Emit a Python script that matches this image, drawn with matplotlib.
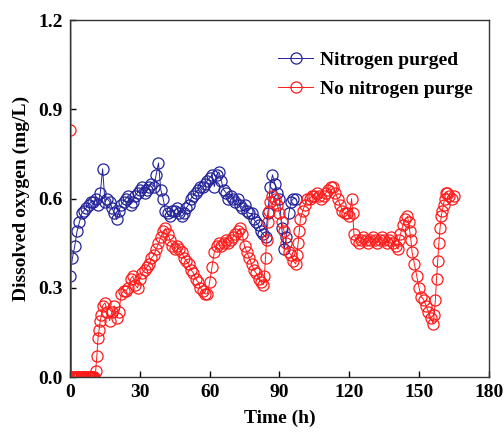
import numpy as np
import matplotlib
matplotlib.use('Agg')
import matplotlib.pyplot as plt

plt.rcParams['font.family'] = ['Liberation Serif', 'DejaVu Serif']
plt.rcParams['font.weight'] = 'bold'

# Nitrogen purged (blue)
t_n2 = [0, 1, 2, 3, 4, 5, 6, 7, 8, 9, 10, 11, 12, 13, 14, 15, 16, 17, 18, 19,
        20, 21, 22, 23, 24, 25, 26, 27, 28, 29, 30, 31, 32, 33, 34, 35, 36, 37, 38, 39,
        40, 41, 42, 43, 44, 45, 46, 47, 48, 49, 50, 51, 52, 53, 54, 55, 56, 57, 58, 59,
        60, 61, 62, 63, 64, 65, 66, 67, 68, 69, 70, 71, 72, 73, 74, 75, 76, 77, 78, 79,
        80, 81, 82, 83, 84, 85, 86, 87, 88, 89, 90, 91, 92, 93, 94, 95, 96, 97]
do_n2 = [0.34, 0.40, 0.44, 0.49, 0.52, 0.55, 0.56, 0.57, 0.58, 0.59, 0.59, 0.60, 0.58, 0.62, 0.70, 0.59, 0.60, 0.59, 0.57, 0.55,
         0.53, 0.56, 0.58, 0.59, 0.60, 0.61, 0.58, 0.59, 0.61, 0.62, 0.63, 0.64, 0.62, 0.63, 0.64, 0.65, 0.64, 0.68, 0.72, 0.63,
         0.60, 0.56, 0.55, 0.54, 0.56, 0.56, 0.57, 0.55, 0.54, 0.55, 0.57, 0.58, 0.60, 0.61, 0.62, 0.63, 0.64, 0.64, 0.65, 0.66,
         0.67, 0.68, 0.64, 0.68, 0.69, 0.66, 0.63, 0.62, 0.60, 0.61, 0.60, 0.59, 0.60, 0.58, 0.57, 0.58, 0.56, 0.55, 0.55, 0.53,
         0.52, 0.51, 0.49, 0.48, 0.47, 0.55, 0.64, 0.68, 0.65, 0.62, 0.60, 0.50, 0.43, 0.47, 0.55, 0.59, 0.60, 0.60]

# No nitrogen purge (red)
t_air = [0, 0.3, 0.6, 1.0, 1.5, 2.0, 2.5, 3.0, 3.5, 4.0, 4.5, 5.0, 5.5, 6.0, 6.5, 7.0, 7.5, 8.0, 8.5, 9.0,
         9.5, 10.0, 10.5, 11, 11.5, 12, 12.5, 13, 13.5, 14, 15, 16, 17, 18, 19, 20, 21, 22, 23, 24,
         25, 26, 27, 28, 29, 30, 31, 32, 33, 34, 35, 36, 37, 38, 39, 40, 41, 42, 43, 44,
         45, 46, 47, 48, 49, 50, 51, 52, 53, 54, 55, 56, 57, 58, 59, 60, 61, 62, 63, 64,
         65, 66, 67, 68, 69, 70, 71, 72, 73, 74, 75, 76, 77, 78, 79, 80, 81, 82, 83, 83.5,
         84, 84.5, 85, 85.5, 86, 87, 88, 89, 90, 91, 92, 93, 94, 95, 96, 97, 97.5, 98, 98.5, 99,
         100, 101, 102, 103, 104, 105, 106, 107, 108, 109, 110, 111, 112, 113, 114, 115, 116, 117, 118, 119,
         120, 121, 121.5, 122, 123, 124, 125, 126, 127, 128, 129, 130, 131, 132, 133, 134, 135, 136, 137, 138,
         139, 140, 141, 141.5, 142, 143, 144, 145, 145.5, 146, 146.5, 147, 148, 149, 150, 151, 152, 153, 154, 155,
         156, 156.5, 157, 157.5, 158, 158.5, 159, 159.5, 160, 160.5, 161, 161.5, 162, 163, 164, 165]
do_air = [0.83, 1.50, 0.0, 0.0, 0.0, 0.0, 0.0, 0.0, 0.0, 0.0, 0.0, 0.0, 0.0, 0.0, 0.0, 0.0, 0.0, 0.0, 0.0, 0.0,
          0.0, 0.0, 0.0, 0.02, 0.07, 0.13, 0.16, 0.19, 0.21, 0.24, 0.25, 0.22, 0.19, 0.22, 0.24, 0.20, 0.22, 0.28, 0.29, 0.29,
          0.30, 0.33, 0.34, 0.31, 0.30, 0.33, 0.35, 0.36, 0.37, 0.38, 0.40, 0.41, 0.43, 0.45, 0.47, 0.49, 0.50, 0.48, 0.46, 0.44,
          0.43, 0.44, 0.43, 0.42, 0.40, 0.39, 0.38, 0.36, 0.35, 0.33, 0.32, 0.30, 0.29, 0.28, 0.28, 0.32, 0.37, 0.42, 0.44, 0.45,
          0.44, 0.45, 0.46, 0.45, 0.46, 0.47, 0.48, 0.49, 0.50, 0.48, 0.44, 0.42, 0.40, 0.38, 0.36, 0.35, 0.33, 0.32, 0.31, 0.34,
          0.40, 0.46, 0.52, 0.56, 0.59, 0.61, 0.60, 0.58, 0.55, 0.52, 0.49, 0.45, 0.42, 0.41, 0.39, 0.38, 0.41, 0.45, 0.49, 0.53,
          0.56, 0.58, 0.60, 0.60, 0.61, 0.61, 0.62, 0.61, 0.60, 0.61, 0.62, 0.63, 0.64, 0.64, 0.62, 0.60, 0.58, 0.56, 0.55, 0.55,
          0.54, 0.60, 0.55, 0.48, 0.46, 0.45, 0.46, 0.47, 0.46, 0.45, 0.46, 0.47, 0.46, 0.45, 0.46, 0.47, 0.46, 0.45, 0.46, 0.47,
          0.45, 0.44, 0.43, 0.46, 0.48, 0.51, 0.53, 0.54, 0.52, 0.49, 0.46, 0.42, 0.38, 0.34, 0.30, 0.27, 0.26, 0.24, 0.22, 0.20,
          0.18, 0.21, 0.26, 0.33, 0.39, 0.45, 0.50, 0.54, 0.56, 0.58, 0.60, 0.62, 0.62, 0.61, 0.60, 0.61]

xticks = [0, 30, 60, 90, 120, 150, 180]
yticks = [0.0, 0.3, 0.6, 0.9, 1.2]

fig = plt.figure(figsize=(5.04, 4.37), dpi=100)
ax = fig.add_axes([0.139, 0.137, 0.831, 0.817])

ax.plot(t_n2, do_n2, '-o', color='#23239a', lw=0.7, ms=8, mfc='none', mew=0.9,
        label='Nitrogen purged')
ax.plot(t_air, do_air, '-o', color='#ff1a1a', lw=0.7, ms=8, mfc='none', mew=0.9,
        label='No nitrogen purge')

ax.set_xlim(0, 180)
ax.set_ylim(0, 1.2)
ax.set_xticks(xticks)
ax.set_yticks(yticks)
ax.set_yticklabels(['%.1f' % v for v in yticks])
ax.tick_params(direction='in', length=4, width=1, labelsize=14, top=False, right=False, pad=5)
for lab in ax.get_xticklabels() + ax.get_yticklabels():
    lab.set_fontweight('bold')
for s in ax.spines.values():
    s.set_linewidth(1.0)
    s.set_color('#333333')

ax.set_xlabel('Time (h)', fontsize=14, fontweight='bold', labelpad=6)
ax.set_ylabel('Dissolved oxygen (mg/L)', fontsize=14, fontweight='bold', labelpad=6)

leg = ax.legend(loc='upper right', bbox_to_anchor=(1.003, 0.962), frameon=False,
                prop={'size': 14, 'weight': 'bold'}, handlelength=1.8,
                handletextpad=0.35, labelspacing=0.6)

fig.savefig('out.png', dpi=100)
